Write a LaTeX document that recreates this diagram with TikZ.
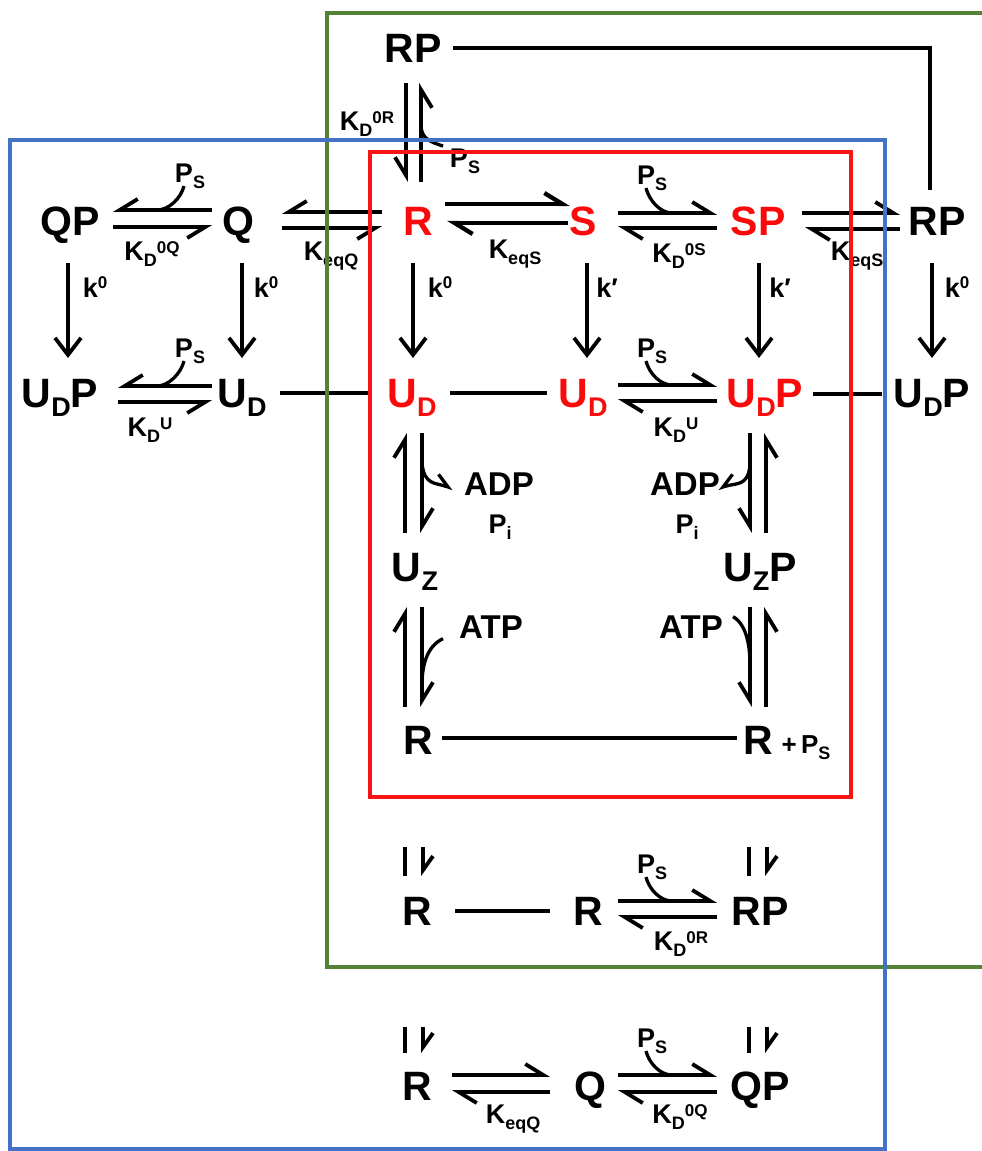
\documentclass[tikz,border=0pt]{standalone}
\usepackage{fontspec}
\setmainfont{Liberation Sans}
\usetikzlibrary{arrows.meta,calc}
\definecolor{gbox}{RGB}{84,130,53}
\definecolor{bbox}{RGB}{68,114,196}
\definecolor{rbox}{RGB}{250,20,20}
\definecolor{spred}{RGB}{250,10,10}
\newcommand\bsb[1]{\raisebox{-9pt}{\fontsize{27}{27}\selectfont #1}}
\newcommand\ssb[1]{\raisebox{-6.5pt}{\fontsize{18}{18}\selectfont #1}}
\newcommand\ssp[1]{\raisebox{7pt}{\fontsize{17}{17}\selectfont #1}}
\newcommand\ksp[1]{\raisebox{9pt}{\fontsize{17}{17}\selectfont #1}}
\tikzset{
  species/.style={inner xsep=0pt, inner ysep=0pt, text height=29pt, text depth=0pt, font=\fontsize{41}{41}\selectfont\bfseries},
  redsp/.style={species, text=spred},
  lbl/.style={inner sep=0pt, anchor=base, font=\fontsize{27}{27}\selectfont\bfseries},
  cof/.style={inner sep=0pt, anchor=base, font=\fontsize{33}{33}\selectfont\bfseries},
  hL/.style={line width=3.8pt, -{Straight Barb[left,length=18pt,width=22pt]}},
  hR/.style={line width=3.8pt, -{Straight Barb[right,length=18pt,width=22pt]}},
  sh/.style={line width=3.8pt, -{Straight Barb[left,length=14pt,width=20pt]}},
  bar/.style={line width=4.8pt},
  kar/.style={line width=3.8pt, -{Straight Barb[length=17pt,width=26pt]}},
  joinline/.style={line width=3.8pt},
  hook/.style={line width=3.3pt},
  hookL/.style={line width=3.3pt, -{Straight Barb[left,length=13pt,width=18pt]}},
  hookR/.style={line width=3.3pt, -{Straight Barb[right,length=13pt,width=18pt]}},
  boxline/.style={line width=3.1pt},
}
\begin{document}
\begin{tikzpicture}[x=1pt,y=-1pt]
\useasboundingbox (0,0) rectangle (982,1151);
\fill[white] (0,0) rectangle (982,1151);
% species
\node[species] (RPt) at (413,48) {RP};
\node[species] (QP) at (70,221) {QP};
\node[species] (Q) at (238,221) {Q};
\node[redsp] (R1) at (418,221) {R};
\node[redsp] (S1) at (583,221) {S};
\node[redsp] (SP1) at (758,221) {SP};
\node[species] (RP1) at (937,221) {RP};
\node[species] (UDP1) at (60,393) {U\bsb{D}P};
\node[species] (UD1) at (242,393) {U\bsb{D}};
\node[redsp] (UD2) at (412,393) {U\bsb{D}};
\node[redsp] (UD3) at (583,393) {U\bsb{D}};
\node[redsp] (UDP2) at (765,393) {U\bsb{D}P};
\node[species] (UDP3) at (932,393) {U\bsb{D}P};
\node[species] (UZ) at (415,567) {U\bsb{Z}};
\node[species] (UZP) at (760,567) {U\bsb{Z}P};
\node[species] (R4) at (418,740) {R};
\node[species] (R5) at (758,740) {R};
\node[species] (R6) at (417,911) {R};
\node[species] (R7) at (588,911) {R};
\node[species] (RP7) at (760,911) {RP};
\node[species] (R8) at (417,1086) {R};
\node[species] (Q8) at (590,1086) {Q};
\node[species] (QP8) at (760,1086) {QP};
% labels
\node[lbl] (kd0r) at (367,130) {K\ssb{D}\ssp{0R}};
\node[lbl] (psA) at (465,167) {P\ssb{S}};
\node[lbl] (psB) at (190,182) {P\ssb{S}};
\node[lbl] (kd0q) at (152,260) {K\ssb{D}\ssp{0Q}};
\node[lbl] (keqq) at (331,260) {K\ssb{eqQ}};
\node[lbl] (keqs) at (515,258) {K\ssb{eqS}};
\node[lbl] (psC) at (652,184) {P\ssb{S}};
\node[lbl] (kd0s) at (679,262) {K\ssb{D}\ssp{0S}};
\node[lbl] (keqs2) at (857,260) {K\ssb{eqS}};
\node[lbl] (k1) at (95,297) {k\ksp{0}};
\node[lbl] (k2) at (266,297) {k\ksp{0}};
\node[lbl] (k3) at (440,297) {k\ksp{0}};
\node[lbl] (k4) at (607,297) {k′};
\node[lbl] (k5) at (780,297) {k′};
\node[lbl] (k6) at (957,297) {k\ksp{0}};
\node[lbl] (psD) at (190,357) {P\ssb{S}};
\node[lbl] (kdu1) at (150,436) {K\ssb{D}\ssp{U}};
\node[lbl] (psE) at (652,357) {P\ssb{S}};
\node[lbl] (kdu2) at (676,436) {K\ssb{D}\ssp{U}};
\node[cof] (adp1) at (499,495) {ADP};
\node[lbl] (pi1) at (500,533) {P\ssb{i}};
\node[cof] (adp2) at (685,495) {ADP};
\node[lbl] (pi2) at (687,533) {P\ssb{i}};
\node[cof] (atp1) at (491,638) {ATP};
\node[cof] (atp2) at (691,638) {ATP};
\node[lbl, font=\fontsize{26}{26}\selectfont\bfseries] (plusps) at (806,753) {+\,P\ssb{S}};
\node[lbl] (psF) at (652,873) {P\ssb{S}};
\node[lbl] (kd0r2) at (681,950) {K\ssb{D}\ssp{0R}};
\node[lbl] (keqq2) at (513,1123) {K\ssb{eqQ}};
\node[lbl] (psG) at (652,1047) {P\ssb{S}};
\node[lbl] (kd0q2) at (680,1123) {K\ssb{D}\ssp{0Q}};
% horizontal equilibria
\draw[hR] ($(Q)+(-26,-11)$) -- ($(QP)+(43,-11)$);
\draw[hR] ($(QP)+(43,6)$) -- ($(Q)+(-26,6)$);
\draw[hR] ($(R1)+(-36,-9)$) -- ($(Q)+(44,-9)$);
\draw[hR] ($(Q)+(44,7)$) -- ($(R1)+(-36,7)$);
\draw[hL, line width=4.3pt] ($(R1)+(27,-17)$) -- ($(S1)+(-13,-17)$);
\draw[hL, line width=4.3pt] ($(S1)+(-15,2)$) -- ($(R1)+(29,2)$);
\draw[hL] ($(S1)+(35,-8)$) -- ($(SP1)+(-41,-8)$);
\draw[hL] ($(SP1)+(-41,7)$) -- ($(S1)+(35,7)$);
\draw[hL] ($(SP1)+(44,-8)$) -- ($(RP1)+(-37,-8)$);
\draw[hL] ($(RP1)+(-37,8)$) -- ($(SP1)+(47,8)$);
\draw[hR] ($(UD1)+(-30,-7)$) -- ($(UDP1)+(58,-7)$);
\draw[hR] ($(UDP1)+(58,9)$) -- ($(UD1)+(-30,9)$);
\draw[hL] ($(UD3)+(35,-8)$) -- ($(UDP2)+(-48,-8)$);
\draw[hL] ($(UDP2)+(-48,8)$) -- ($(UD3)+(35,8)$);
\draw[hL] ($(R7)+(30,-10)$) -- ($(RP7)+(-43,-10)$);
\draw[hL] ($(RP7)+(-43,6)$) -- ($(R7)+(30,6)$);
\draw[hL] ($(R8)+(35,-11)$) -- ($(Q8)+(-40,-11)$);
\draw[hL] ($(Q8)+(-40,6)$) -- ($(R8)+(35,6)$);
\draw[hL] ($(Q8)+(28,-11)$) -- ($(QP8)+(-43,-11)$);
\draw[hL] ($(QP8)+(-43,6)$) -- ($(Q8)+(28,6)$);
% P_S hooks
\draw[hook] ($(psB)+(-6,10)$) .. controls +(-3,12) and +(12,0) .. ($(QP)+(87,-11)$);
\draw[hook] ($(psC)+(-6,10)$) .. controls +(3,12) and +(-12,0) .. ($(S1)+(89,-8)$);
\draw[hook] ($(psD)+(-6,10)$) .. controls +(-3,12) and +(12,0) .. ($(UDP1)+(97,-7)$);
\draw[hook] ($(psE)+(-6,10)$) .. controls +(3,12) and +(-12,0) .. ($(UD3)+(89,-8)$);
\draw[hook] ($(psF)+(-6,10)$) .. controls +(3,12) and +(-12,0) .. ($(R7)+(84,-10)$);
\draw[hook] ($(psG)+(-6,10)$) .. controls +(3,12) and +(-12,0) .. ($(Q8)+(82,-11)$);
\draw[hook] ($(psA)+(-22,-15)$) .. controls +(-12,-4) and +(0,14) .. ($(RPt)+(8,77)$);
% vertical equilibria
\draw[hR] ($(RPt)+(-7,35)$) -- ($(R1)+(-12,-39)$);
\draw[hR] ($(R1)+(3,-39)$) -- ($(RPt)+(8,35)$);
\draw[hL] ($(UZ)+(-10,-34)$) -- ($(UD2)+(-7,40)$);
\draw[hL] ($(UD2)+(10,40)$) -- ($(UZ)+(7,-34)$);
\draw[hL] ($(R4)+(-13,-33)$) -- ($(UZ)+(-10,40)$);
\draw[hL] ($(UZ)+(7,40)$) -- ($(R4)+(4,-33)$);
\draw[hR] ($(UDP2)+(-15,40)$) -- ($(UZP)+(-10,-34)$);
\draw[hR] ($(UZP)+(6,-34)$) -- ($(UDP2)+(1,40)$);
\draw[hR] ($(UZP)+(-10,40)$) -- ($(R5)+(-8,-33)$);
\draw[hR] ($(R5)+(8,-33)$) -- ($(UZP)+(6,40)$);
% ADP / ATP hooks
\draw[hookL] ($(UD2)+(10,70)$) .. controls +(2,22) and +(-18,-6) .. ($(adp1)+(-46,5)$);
\draw[hookR] ($(UDP2)+(-15,72)$) .. controls +(-2,22) and +(18,-6) .. ($(adp2)+(33,5)$);
\draw[hook] ($(atp1)+(-48,12)$) .. controls +(-17,8) and +(0,-18) .. ($(UZ)+(7,118)$);
\draw[hook] ($(atp2)+(42,-10)$) .. controls +(14,8) and +(0,-18) .. ($(UZP)+(-10,98)$);
% small marks
\draw[bar] ($(R6)+(-12,-64)$) -- ($(R6)+(-12,-35)$);
\draw[sh] ($(R6)+(6,-64)$) -- ($(R6)+(6,-35)$);
\draw[bar] ($(RP7)+(-11,-64)$) -- ($(RP7)+(-11,-35)$);
\draw[sh] ($(RP7)+(7,-64)$) -- ($(RP7)+(7,-35)$);
\draw[bar] ($(R8)+(-12,-59)$) -- ($(R8)+(-12,-33)$);
\draw[sh] ($(R8)+(6,-59)$) -- ($(R8)+(6,-33)$);
\draw[bar] ($(QP8)+(-11,-59)$) -- ($(QP8)+(-11,-33)$);
\draw[sh] ($(QP8)+(7,-59)$) -- ($(QP8)+(7,-33)$);
% rate arrows
\draw[kar] ($(QP)+(-2,42)$) -- ($(UDP1)+(8,-35)$);
\draw[kar] ($(Q)+(4,42)$) -- ($(UD1)+(0,-35)$);
\draw[kar] ($(R1)+(-5,42)$) -- ($(UD2)+(1,-35)$);
\draw[kar] ($(S1)+(4,42)$) -- ($(UD3)+(4,-35)$);
\draw[kar] ($(SP1)+(1,42)$) -- ($(UDP2)+(-6,-35)$);
\draw[kar] ($(RP1)+(-5,42)$) -- ($(UDP3)+(0,-35)$);
% plain links
\draw[joinline] ($(RPt)+(40,0)$) -| ($(RP1)+(-7,-31)$);
\draw[joinline] ($(UD1)+(38,0)$) -- ($(UD2)+(-40,0)$);
\draw[joinline] ($(UD2)+(38,0)$) -- ($(UD3)+(-36,0)$);
\draw[joinline] ($(UDP2)+(48,1)$) -- ($(UDP3)+(-50,1)$);
\draw[joinline] ($(R4)+(24,-2)$) -- ($(R5)+(-21,-2)$);
\draw[joinline] ($(R6)+(38,0)$) -- ($(R7)+(-38,0)$);
% boxes
\draw[boxline, gbox] (982,13) -- (327,13) -- (327,967) -- (982,967);
\draw[boxline, bbox] (10,140) rectangle (885,1149);
\draw[boxline, rbox] (370,152) rectangle (851,797);
\end{tikzpicture}
\end{document}
